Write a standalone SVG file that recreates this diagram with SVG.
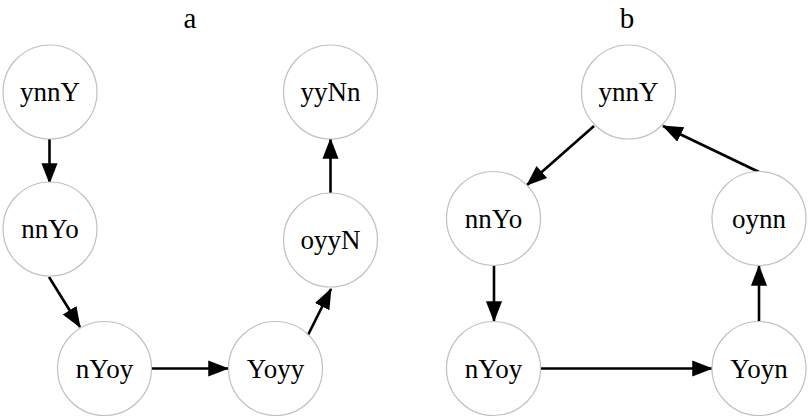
<svg xmlns="http://www.w3.org/2000/svg" width="809" height="418" viewBox="0 0 809 418">
<defs>
<style>
.node circle{fill:#fff;stroke:#c0c0c0;stroke-width:1.2}
.node text,.title{font-family:"Liberation Serif","Times New Roman",serif;fill:#000;text-anchor:middle}
.node text{font-size:27px}
.title{font-size:29px}
#edges line{stroke:#000;stroke-width:2.6;marker-end:url(#arr)}
</style>
<marker id="arr" markerWidth="8" markerHeight="7" refX="7.6" refY="3.1" orient="auto" markerUnits="strokeWidth" viewBox="0 0 8 6.2">
<path d="M0,0 L8,3.1 L0,6.2 Z" fill="#000"/>
</marker>
</defs>
<rect width="809" height="418" fill="#fff"/>
<text class="title" x="190" y="28">a</text>
<text class="title" x="627" y="28">b</text>
<g id="edges">
<line x1="49.5" y1="139" x2="49.5" y2="183"/>
<line x1="49" y1="277" x2="80" y2="327"/>
<line x1="152" y1="368.5" x2="228" y2="368.5"/>
<line x1="308" y1="335" x2="331" y2="289"/>
<line x1="330.5" y1="193" x2="330.5" y2="139"/>
<line x1="594" y1="126" x2="527" y2="185"/>
<line x1="761" y1="173" x2="663" y2="126"/>
<line x1="494" y1="265" x2="494" y2="321"/>
<line x1="541" y1="368.5" x2="712" y2="368.5"/>
<line x1="759" y1="322" x2="759" y2="266"/>
</g>
<g id="a_ynnY" class="node"><circle cx="50" cy="92" r="47"/><text x="50" y="101">ynnY</text></g>
<g id="a_nnYo" class="node"><circle cx="50" cy="229" r="47"/><text x="50" y="238">nnYo</text></g>
<g id="a_nYoy" class="node"><circle cx="104.5" cy="368.5" r="47"/><text x="104.5" y="377.5">nYoy</text></g>
<g id="a_Yoyy" class="node"><circle cx="275.5" cy="368.5" r="47"/><text x="275.5" y="377.5">Yoyy</text></g>
<g id="a_oyyN" class="node"><circle cx="330.5" cy="240" r="47"/><text x="330.5" y="249">oyyN</text></g>
<g id="a_yyNn" class="node"><circle cx="330.5" cy="92" r="47"/><text x="330.5" y="101">yyNn</text></g>
<g id="b_ynnY" class="node"><circle cx="628.5" cy="92" r="47"/><text x="628.5" y="101">ynnY</text></g>
<g id="b_nnYo" class="node"><circle cx="493.5" cy="218.5" r="47"/><text x="493.5" y="227.5">nnYo</text></g>
<g id="b_oynn" class="node"><circle cx="759" cy="218.5" r="47"/><text x="759" y="227.5">oynn</text></g>
<g id="b_nYoy" class="node"><circle cx="493.5" cy="368.5" r="47"/><text x="493.5" y="377.5">nYoy</text></g>
<g id="b_Yoyn" class="node"><circle cx="759" cy="368.5" r="47"/><text x="759" y="377.5">Yoyn</text></g>
</svg>
